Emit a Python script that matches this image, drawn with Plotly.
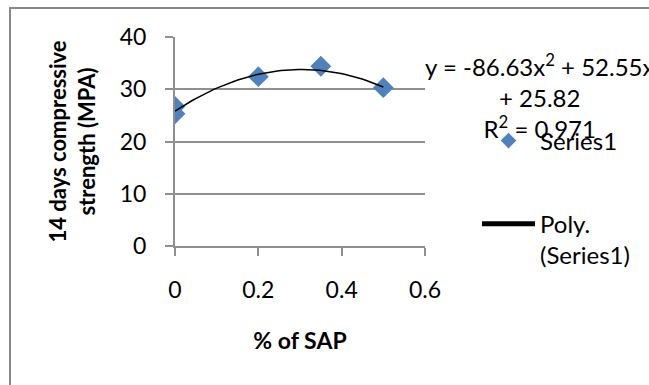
import numpy as np
import plotly.graph_objects as go

# data
sap_pct = [0.0, 0.0, 0.2, 0.35, 0.5]
strength_14d = [26.7, 25.3, 32.4, 34.4, 30.3]
# polynomial trendline coefficients as printed on the chart (x^2, x, const)
poly_coef = [-86.63, 52.55, 25.82]
r_squared = 0.971

x_ticks = [0, 0.2, 0.4, 0.6]
y_ticks = [0, 10, 20, 30, 40]

FONT = "Lato"
GRID = "#8f8f8f"
BLUE = "#4F81BD"

xt = np.linspace(min(sap_pct), max(sap_pct), 60)
yt = np.polyval(poly_coef, xt)

fig = go.Figure()
fig.add_trace(go.Scatter(
    x=sap_pct, y=strength_14d, mode="markers", name="Series1",
    marker=dict(symbol="diamond", size=16, color=BLUE),
    legendgroup="a",
))
fig.add_trace(go.Scatter(
    x=xt, y=yt, mode="lines", name="Poly.<br>(Series1)",
    line=dict(color="black", width=1.5),
    legendgroup="b",
))

eq = (f"y = {poly_coef[0]:.2f}x<sup>2</sup> + {poly_coef[1]:.2f}x<br>"
      f"+ {poly_coef[2]:.2f}<br>R<sup>2</sup> = {r_squared:.3f}")

fig.update_layout(
    width=649, height=385,
    margin=dict(l=175, r=224, t=37, b=139),
    paper_bgcolor="white", plot_bgcolor="white",
    font=dict(family=FONT, size=24, color="black"),
    showlegend=True,
    legend=dict(
        x=1.208, y=0.61, xanchor="left", yanchor="top",
        itemwidth=53, tracegroupgap=49, valign="top",
        font=dict(size=24), bgcolor="rgba(0,0,0,0)",
        itemsizing="constant",
    ),
    xaxis=dict(
        range=[0, 0.6], tickvals=x_ticks, ticktext=[str(v) for v in x_ticks],
        showgrid=False, zeroline=False, showline=True, linecolor=GRID, linewidth=2,
        ticks="outside", ticklen=8, tickcolor=GRID, tickwidth=2,
        ticklabelstandoff=14, tickfont=dict(size=23),
        title=dict(text="<b>% of SAP</b>", font=dict(size=23), standoff=31),
    ),
    yaxis=dict(
        range=[0, 40], tickvals=y_ticks,
        showgrid=True, gridcolor=GRID, gridwidth=2, zeroline=False,
        showline=True, linecolor=GRID, linewidth=2,
        ticks="outside", ticklen=8, tickcolor=GRID, tickwidth=2,
        ticklabelstandoff=14, tickfont=dict(size=23),
        title=dict(text="<b>14 days compressive<br>strength (MPA)</b>", font=dict(size=22), standoff=18),
    ),
    annotations=[dict(
        x=1.46, y=0.95, xref="paper", yref="paper", xanchor="center", yanchor="top",
        text=eq, showarrow=False, align="center", font=dict(size=24),
    )],
    shapes=[dict(
        type="rect", xref="paper", yref="paper",
        x0=-0.66, x1=2.2, y0=-0.8, y1=1.139,
        line=dict(color="#888888", width=2), fillcolor="rgba(0,0,0,0)", layer="below",
    )],
)

fig.write_html("out.html")
